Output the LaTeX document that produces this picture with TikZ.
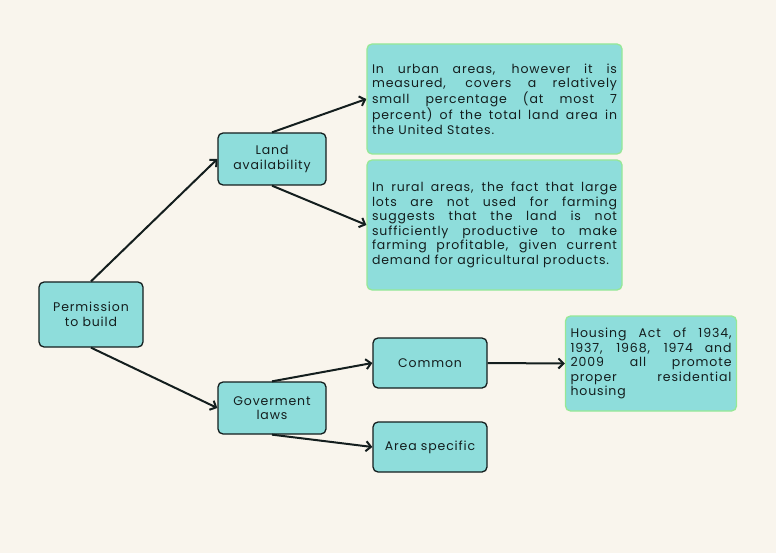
\documentclass[tikz,border=0pt]{standalone}
\usepackage{fontspec}
\setmainfont{Poppins}[LetterSpace=7]
\usetikzlibrary{arrows.meta,positioning}

\definecolor{paper}{RGB}{249,245,237}
\definecolor{tealfill}{RGB}{142,221,219}
\definecolor{darkline}{RGB}{20,30,30}
\definecolor{leafline}{RGB}{150,232,150}
\hyphenpenalty=10000
\exhyphenpenalty=10000

\begin{document}
\begin{tikzpicture}[x=1pt,y=-1pt,>={Straight Barb[length=5pt,width=10pt]},
  every node/.style={font=\fontsize{12.5}{14.5}\selectfont,text=darkline},
  topic/.style={draw=darkline,line width=1.3pt,fill=tealfill,rounded corners=5pt,
    align=center,inner sep=2pt},
  leaf/.style={draw=leafline,line width=1.3pt,fill=tealfill,rounded corners=5pt,
    align=justify,inner sep=5pt},
  link/.style={line width=2pt,darkline,->}]
  \useasboundingbox (0,0) rectangle (776,553);
  \fill[paper] (0,0) rectangle (776,553);
  % main topics
  \node[topic,minimum width=104pt,minimum height=65pt] (perm) at (91,314.5) {Permission\\to build};
  \node[topic,minimum width=108pt,minimum height=52pt] (land) at (272,159) {Land\\availability};
  \node[topic,minimum width=108pt,minimum height=52pt] (gov)  at (272,408) {Goverment\\laws};
  \node[topic,minimum width=114pt,minimum height=50pt] (comm) at (430,363) {Common};
  \node[topic,minimum width=114pt,minimum height=50pt] (area) at (430,447) {Area specific};
  % leaves
  \node[leaf,text width=245pt,minimum height=110pt] (urban) at (494.5,99)
    {In urban areas, however it is\linebreak measured, covers a relatively\linebreak small percentage (at most 7\linebreak percent) of the total land area in\linebreak the United States.};
  \node[leaf,text width=245pt,minimum height=130pt] (rural) at (494.5,225)
    {In rural areas, the fact that large\linebreak lots are not used for farming\linebreak suggests that the land is not\linebreak sufficiently productive to make\linebreak farming profitable, given current\linebreak demand for agricultural products.};
  \node[leaf,text width=161pt,minimum height=95pt] (act) at (651,363.5)
    {Housing Act of 1934,\linebreak 1937, 1968, 1974 and\linebreak 2009 all promote\linebreak proper residential\linebreak housing};
  % connectors
  \draw[link] (perm.north) -- (land.west);
  \draw[link] (perm.south) -- (gov.west);
  \draw[link] (land.north) -- (urban.west);
  \draw[link] (land.south) -- (rural.west);
  \draw[link] (gov.north) -- (comm.west);
  \draw[link] (gov.south) -- (area.west);
  \draw[link] (comm.east) -- (act.west);
\end{tikzpicture}
\end{document}
